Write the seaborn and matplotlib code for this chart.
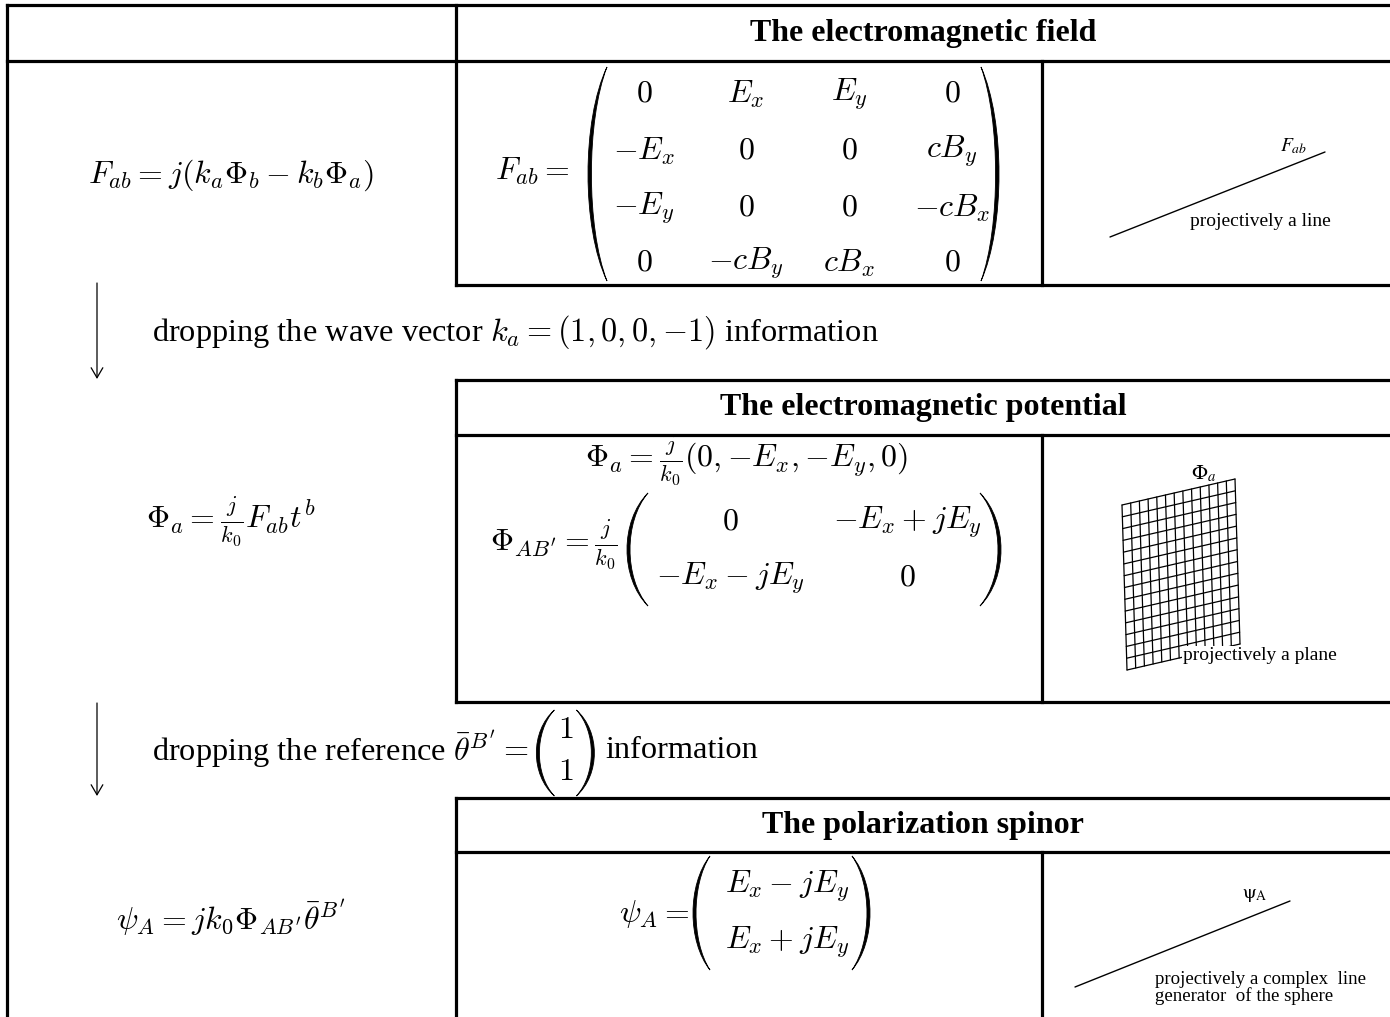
import numpy as np
import pandas as pd
import matplotlib.pyplot as plt
from matplotlib.path import Path
from matplotlib.patches import PathPatch
import seaborn as sns

sns.set_theme(style="white")
plt.rcParams["font.family"] = ["Liberation Serif", "DejaVu Serif"]
plt.rcParams["mathtext.fontset"] = "cm"
plt.rcParams["text.color"] = "black"

# ---- content -------------------------------------------------------------
titles = ["The electromagnetic field",
          "The electromagnetic potential",
          "The polarization spinor"]
left_formulas = [r"$F_{ab} = j(k_a\Phi_b - k_b\Phi_a)$",
                 r"$\Phi_a = \frac{j}{k_0}F_{ab}t^b$",
                 r"$\psi_A = jk_0\Phi_{AB'}\bar{\theta}^{B'}$"]
field_lhs = r"$F_{ab} =$"
field_matrix = [[r"$0$", r"$E_x$", r"$E_y$", r"$0$"],
                [r"$-E_x$", r"$0$", r"$0$", r"$cB_y$"],
                [r"$-E_y$", r"$0$", r"$0$", r"$-cB_x$"],
                [r"$0$", r"$-cB_y$", r"$cB_x$", r"$0$"]]
potential_vector = r"$\Phi_a = \frac{j}{k_0}(0, {-E_x}, {-E_y}, 0)$"
potential_lhs = r"$\Phi_{AB'} = \frac{j}{k_0}$"
potential_matrix = [[r"$0$", r"$-E_x + jE_y$"],
                    [r"$-E_x - jE_y$", r"$0$"]]
spinor_lhs = r"$\psi_A =$"
spinor_vector = [r"$E_x - jE_y$", r"$E_x + jE_y$"]
drop_wave = r"dropping the wave vector $k_a = (1, 0, 0, {-1})$ information"
drop_ref_head = r"dropping the reference $\bar{\theta}^{B'} =$"
reference_vector = [r"$1$", r"$1$"]
drop_ref_tail = "information"
picture_labels = [r"$F_{ab}$", r"$\Phi_a$", r"$\mathrm{\psi}_{\mathrm{A}}$"]
picture_captions = ["projectively a line", "projectively a plane",
                    "projectively a complex  line", "generator  of the sphere"]
grid_cols, grid_rows = 13, 14

# ---- figure --------------------------------------------------------------
fig = plt.figure(figsize=(13.9, 10.17), dpi=100)
ax = fig.add_axes([0, 0, 1, 1])
ax.set_xlim(0, 1390)
ax.set_ylim(1017, 0)
ax.axis("off")

LW = 2.3


def seg(x0, y0, x1, y1):
    ax.plot([x0, x1], [y0, y1], color="black", lw=LW, solid_capstyle="projecting")


# table frame
seg(7, 5, 1390, 5)
seg(7, 61, 1390, 61)
seg(7, 5, 7, 1017)
seg(456, 5, 456, 285)
seg(1042, 61, 1042, 285)
seg(456, 285, 1390, 285)
for top, head, bot in [(380, 435, 702), (798, 852, 1030)]:
    seg(456, top, 1390, top)
    seg(456, head, 1390, head)
    seg(456, top, 456, bot)
    seg(1042, head, 1042, bot)
    if bot < 1017:
        seg(456, bot, 1390, bot)


def paren(x_end, x_bulge, top, bot, t=3.0):
    w = x_end - x_bulge
    s = np.sign(w)
    c_out = x_end - w / 0.75
    c_in = x_end - (w - s * t) / 0.75
    h = bot - top
    k = 0.25
    verts = [(x_end, top), (c_out, top + k * h), (c_out, bot - k * h), (x_end, bot),
             (c_in, bot - k * h), (c_in, top + k * h), (x_end, top), (x_end, top)]
    codes = [Path.MOVETO] + [Path.CURVE4] * 6 + [Path.CLOSEPOLY]
    ax.add_patch(PathPatch(Path(verts, codes), facecolor="black",
                           edgecolor="black", lw=0.6))


MS = 23
# titles
for title, y in zip(titles, [34, 408, 825]):
    ax.text(923, y, title, ha="center", va="center", fontsize=23, fontweight="bold")

# left column formulas
for f, y in zip(left_formulas, [175, 522, 918]):
    ax.text(231, y, f, ha="center", va="center", fontsize=MS)

# field matrix
ax.text(570, 171, field_lhs, ha="right", va="center", fontsize=MS)
paren(607, 588, 67, 281, t=3.4)
paren(981, 999, 67, 281, t=3.4)
col_x = [644, 746, 849, 952]
row_y = [94, 151, 208, 263]
for r, row in enumerate(field_matrix):
    for c, e in enumerate(row):
        ax.text(col_x[c], row_y[r], e, ha="center", va="center", fontsize=MS)

# potential
ax.text(746, 461, potential_vector, ha="center", va="center", fontsize=MS)
ax.text(617, 545, potential_lhs, ha="right", va="center", fontsize=MS)
paren(648, 627, 493, 606)
paren(980, 1001, 493, 606)
pot_x = [730, 907]
for row, y in zip(potential_matrix, [522, 578]):
    for e, x in zip(row, pot_x):
        ax.text(x, y, e, ha="center", va="center", fontsize=MS)

# spinor
ax.text(689, 914, spinor_lhs, ha="right", va="center", fontsize=MS)
paren(710, 693, 856, 970)
paren(852, 870, 856, 970)
for e, y in zip(spinor_vector, [886, 942]):
    ax.text(787, y, e, ha="center", va="center", fontsize=MS)

# arrows and captions
for y0, y1 in [(283, 379), (703, 796)]:
    ax.annotate("", xy=(97, y1), xytext=(97, y0),
                arrowprops=dict(arrowstyle="->,head_length=0.6,head_width=0.35",
                                lw=0.9, color="black", shrinkA=0, shrinkB=0))
ax.text(152, 332, drop_wave, ha="left", va="center", fontsize=23.3)

fig.canvas.draw()
renderer = fig.canvas.get_renderer()
inv = ax.transData.inverted()
t1 = ax.text(152, 750, drop_ref_head, ha="left", va="center", fontsize=23.3)
bb = inv.transform(t1.get_window_extent(renderer))
xe = max(bb[:, 0])
paren(xe + 26, xe + 8, 710, 796)
for e, y in zip(reference_vector, [731, 773]):
    ax.text(xe + 37, y, e, ha="center", va="center", fontsize=MS)
paren(xe + 48, xe + 66, 710, 796)
ax.text(xe + 77, 750, drop_ref_tail, ha="left", va="center", fontsize=23.3)

# pictures on the right
lines = pd.DataFrame({"unit": [0, 0, 1, 1],
                      "x": [1110, 1325, 1075, 1290],
                      "y": [237, 152, 987, 901]})
sns.lineplot(data=lines, x="x", y="y", units="unit", estimator=None,
             color="black", lw=1.0, sort=False, ax=ax)

origin = np.array([1127.0, 670.0])
u = np.array([113.0, -26.0])
v = np.array([-5.0, -165.0])
rows = []
k = 0
for i in range(grid_cols + 1):
    p = origin + i / grid_cols * u
    rows += [(k, *p), (k, *(p + v))]
    k += 1
for j in range(grid_rows + 1):
    p = origin + j / grid_rows * v
    rows += [(k, *p), (k, *(p + u))]
    k += 1
grid = pd.DataFrame(rows, columns=["unit", "x", "y"])
sns.lineplot(data=grid, x="x", y="y", units="unit", estimator=None,
             color="black", lw=0.9, sort=False, ax=ax)

ax.text(1294, 146, picture_labels[0], ha="center", va="center", fontsize=14,
        math_fontfamily="stix")
ax.text(1204, 474, picture_labels[1], ha="center", va="center", fontsize=15,
        math_fontfamily="stix")
ax.text(1255, 896, picture_labels[2], ha="center", va="center", fontsize=14,
        math_fontfamily="stix")
ax.text(1190, 222, picture_captions[0], ha="left", va="center", fontsize=14)
ax.text(1183, 656, picture_captions[1], ha="left", va="center", fontsize=14,
        bbox=dict(facecolor="white", edgecolor="none", pad=1))
ax.text(1155, 979, picture_captions[2], ha="left", va="center", fontsize=13.6)
ax.text(1155, 996, picture_captions[3], ha="left", va="center", fontsize=13.6)

ax.set_xlim(0, 1390)
ax.set_ylim(1017, 0)
ax.axis("off")
fig.savefig("out.png", dpi=100)
